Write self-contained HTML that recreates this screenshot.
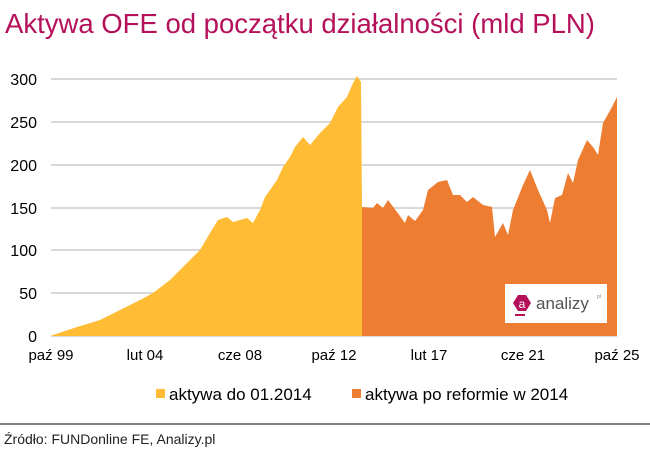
<!DOCTYPE html>
<html><head><meta charset="utf-8"><style>
body{margin:0;background:#fff;width:650px;height:457px;overflow:hidden}
svg{display:block}
</style></head><body>
<svg width="650" height="457" xmlns="http://www.w3.org/2000/svg" font-family="Liberation Sans, Arial, sans-serif">
<text x="5" y="33" font-size="27.5" fill="#B5105A">Aktywa OFE od początku działalności (mld PLN)</text>
<g stroke="#d9d9d9" stroke-width="2">
<line x1="51" y1="79" x2="617" y2="79"/><line x1="51" y1="122" x2="617" y2="122"/>
<line x1="51" y1="165" x2="617" y2="165"/><line x1="51" y1="208" x2="617" y2="208"/>
<line x1="51" y1="250" x2="617" y2="250"/><line x1="51" y1="293" x2="617" y2="293"/>
</g>
<polygon fill="#FFBC34" points="50,336 77,327 100,320 120,310 140,300 153,293 170,280 187,263 200,250 210,233 218,220 227,217 233,222 247,218 253,223 260,210 265,197 277,180 283,167 290,157 295,147 303,137 310,145 320,133 330,123 338,107 347,97 353,83 357,76 361,82 363,336"/>
<polygon fill="#ED7D31" points="362,336 362,207 373,208 377,203 383,208 388,200 397,212 405,223 408,215 415,221 423,210 428,190 438,182 447,180 453,195 460,195 467,202 473,197 483,205 492,207 495,237 503,223 508,235 513,210 523,185 530,170 538,190 547,210 550,223 555,198 562,195 568,173 573,183 578,160 587,140 593,147 598,155 603,123 612,107 617,97 617,336"/>
<line x1="51" y1="336.5" x2="617" y2="336.5" stroke="#d9d9d9" stroke-width="1"/>
<g font-size="16" fill="#000" text-anchor="end">
<text x="37" y="342">0</text><text x="37" y="299">50</text><text x="37" y="256">100</text>
<text x="37" y="214">150</text><text x="37" y="171">200</text><text x="37" y="128">250</text><text x="37" y="85">300</text>
</g>
<g font-size="15" fill="#000" text-anchor="middle">
<text x="51" y="360">paź 99</text><text x="145" y="360">lut 04</text><text x="240" y="360">cze 08</text>
<text x="334" y="360">paź 12</text><text x="429" y="360">lut 17</text><text x="523" y="360">cze 21</text><text x="617" y="360">paź 25</text>
</g>
<rect x="505" y="284" width="102" height="39" fill="#fff"/>
<polygon points="513,303 518,295 526,295 531,303 526,311 518,311" fill="#B5105A"/>
<text x="522" y="308" font-size="12" fill="#fff" text-anchor="middle">a</text>
<rect x="515" y="314" width="10" height="2" fill="#B5105A"/>
<text x="536" y="309" font-size="17" fill="#555">analizy</text>
<text x="597" y="298" font-size="5" fill="#888">pl</text>
<rect x="156" y="389" width="9" height="9" fill="#FFBC34"/>
<text x="169" y="400" font-size="17" fill="#000">aktywa do 01.2014</text>
<rect x="352" y="389" width="9" height="9" fill="#ED7D31"/>
<text x="365" y="400" font-size="17" fill="#000">aktywa po reformie w 2014</text>
<line x1="0" y1="424" x2="650" y2="424" stroke="#000" stroke-width="1"/>
<text x="4" y="444" font-size="14" fill="#222">Źródło: FUNDonline FE, Analizy.pl</text>
</svg>
</body></html>
